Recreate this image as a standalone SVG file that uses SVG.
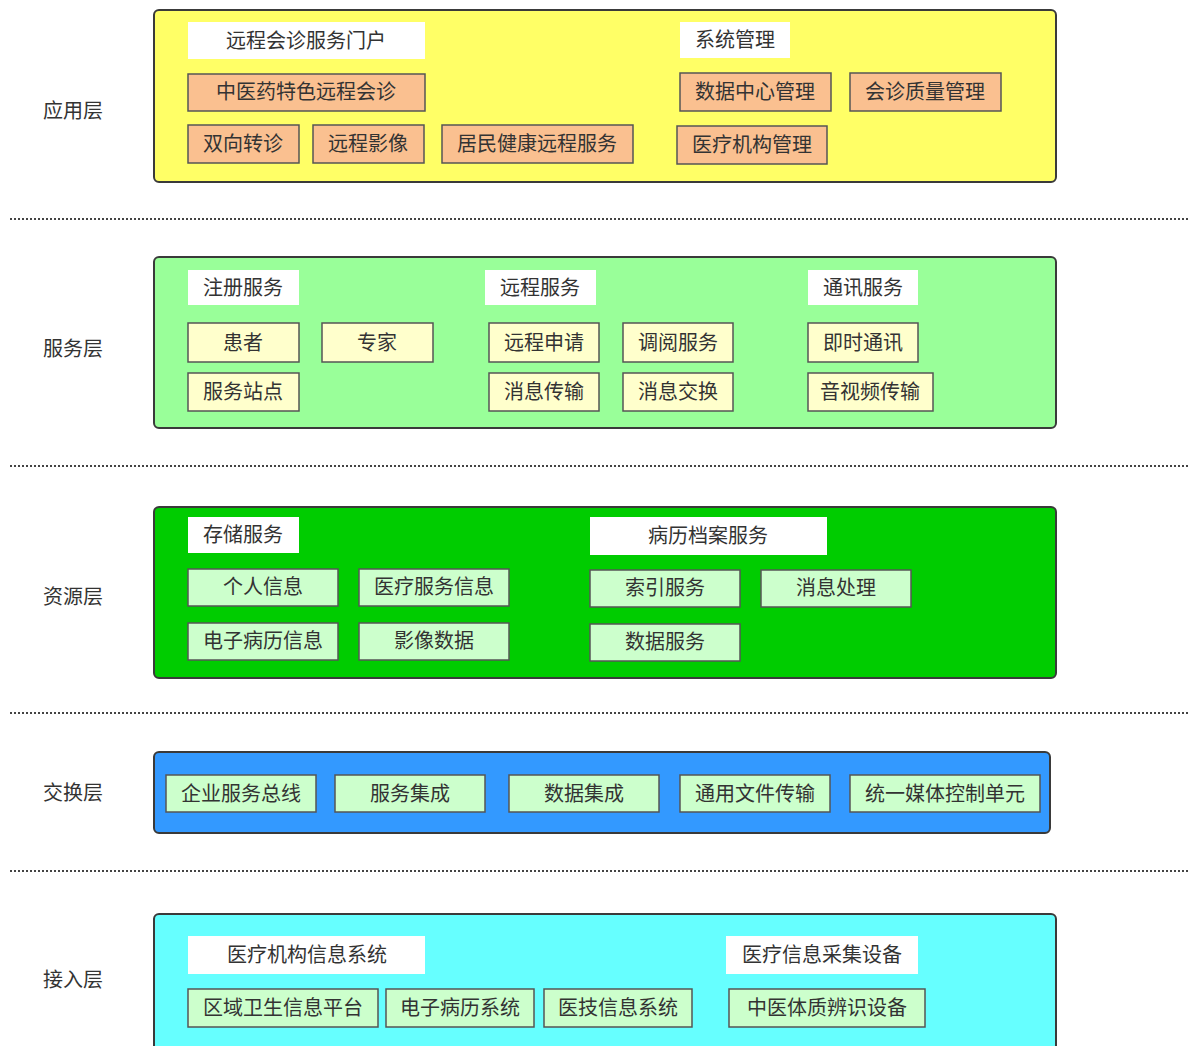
<svg xmlns="http://www.w3.org/2000/svg" width="1189" height="1046" viewBox="0 0 1189 1046">
<style>
text{font-family:"Noto Sans CJK SC","Noto Sans",sans-serif;font-size:20px;fill:#333;text-anchor:middle}
.layer{stroke:#3a3a3a;stroke-width:2}
.hdr{fill:#ffffff;stroke:none}
.it{stroke:#555;stroke-width:1.5}
.or{fill:#fac090}
.ly{fill:#ffffcc}
.lg{fill:#ccffcc}
.sep{stroke:#444;stroke-width:2;stroke-dasharray:2 2;fill:none}
</style>
<rect width="1189" height="1046" fill="#ffffff"/>
<g id="separators">
<line class="sep" x1="10" y1="219" x2="1189" y2="219"/>
<line class="sep" x1="10" y1="466" x2="1189" y2="466"/>
<line class="sep" x1="10" y1="713" x2="1189" y2="713"/>
<line class="sep" x1="10" y1="871" x2="1189" y2="871"/>
</g>
<g id="labels">
<text x="73" y="118">应用层</text>
<text x="73" y="356">服务层</text>
<text x="73" y="604">资源层</text>
<text x="73" y="800">交换层</text>
<text x="73" y="987">接入层</text>
</g>
<g id="app-layer">
<rect class="layer" x="154" y="10" width="902" height="172" rx="5" fill="#ffff66"/>
<g id="app-portal"><rect class="hdr" x="188" y="22" width="237" height="37"/><text x="306" y="48">远程会诊服务门户</text></g>
<g id="app-sys"><rect class="hdr" x="680" y="22" width="110" height="36"/><text x="735" y="47">系统管理</text></g>
<g id="app-tcm"><rect class="it or" x="188" y="74" width="237" height="37"/><text x="306" y="99">中医药特色远程会诊</text></g>
<g id="app-ref"><rect class="it or" x="188" y="125" width="111" height="38"/><text x="243" y="151">双向转诊</text></g>
<g id="app-img"><rect class="it or" x="313" y="125" width="111" height="38"/><text x="368" y="151">远程影像</text></g>
<g id="app-res"><rect class="it or" x="442" y="125" width="191" height="38"/><text x="537" y="151">居民健康远程服务</text></g>
<g id="app-dc"><rect class="it or" x="680" y="73" width="151" height="38"/><text x="755" y="99">数据中心管理</text></g>
<g id="app-qual"><rect class="it or" x="850" y="73" width="151" height="38"/><text x="925" y="99">会诊质量管理</text></g>
<g id="app-org"><rect class="it or" x="677" y="126" width="150" height="38"/><text x="752" y="152">医疗机构管理</text></g>
</g>
<g id="svc-layer">
<rect class="layer" x="154" y="257" width="902" height="171" rx="5" fill="#99ff99"/>
<g id="svc-reg"><rect class="hdr" x="188" y="270" width="111" height="35"/><text x="243" y="295">注册服务</text></g>
<g id="svc-remote"><rect class="hdr" x="485" y="270" width="111" height="35"/><text x="540" y="295">远程服务</text></g>
<g id="svc-comm"><rect class="hdr" x="808" y="270" width="110" height="35"/><text x="863" y="295">通讯服务</text></g>
<g id="svc-pat"><rect class="it ly" x="188" y="323" width="111" height="39"/><text x="243" y="350">患者</text></g>
<g id="svc-exp"><rect class="it ly" x="322" y="323" width="111" height="39"/><text x="377" y="350">专家</text></g>
<g id="svc-site"><rect class="it ly" x="188" y="373" width="111" height="38"/><text x="243" y="399">服务站点</text></g>
<g id="svc-apply"><rect class="it ly" x="489" y="323" width="110" height="39"/><text x="544" y="350">远程申请</text></g>
<g id="svc-view"><rect class="it ly" x="623" y="323" width="110" height="39"/><text x="678" y="350">调阅服务</text></g>
<g id="svc-msg"><rect class="it ly" x="489" y="373" width="110" height="38"/><text x="544" y="399">消息传输</text></g>
<g id="svc-xchg"><rect class="it ly" x="623" y="373" width="110" height="38"/><text x="678" y="399">消息交换</text></g>
<g id="svc-im"><rect class="it ly" x="808" y="323" width="110" height="39"/><text x="863" y="350">即时通讯</text></g>
<g id="svc-av"><rect class="it ly" x="808" y="373" width="125" height="38"/><text x="870" y="399">音视频传输</text></g>
</g>
<g id="res-layer">
<rect class="layer" x="154" y="507" width="902" height="171" rx="5" fill="#00cc00"/>
<g id="res-store"><rect class="hdr" x="188" y="517" width="111" height="36"/><text x="243" y="542">存储服务</text></g>
<g id="res-emr"><rect class="hdr" x="590" y="517" width="237" height="38"/><text x="708" y="543">病历档案服务</text></g>
<g id="res-pers"><rect class="it lg" x="188" y="569" width="150" height="37"/><text x="263" y="594">个人信息</text></g>
<g id="res-med"><rect class="it lg" x="359" y="569" width="150" height="37"/><text x="434" y="594">医疗服务信息</text></g>
<g id="res-emri"><rect class="it lg" x="188" y="623" width="150" height="37"/><text x="263" y="648">电子病历信息</text></g>
<g id="res-imgd"><rect class="it lg" x="359" y="623" width="150" height="37"/><text x="434" y="648">影像数据</text></g>
<g id="res-idx"><rect class="it lg" x="590" y="570" width="150" height="37"/><text x="665" y="595">索引服务</text></g>
<g id="res-proc"><rect class="it lg" x="761" y="570" width="150" height="37"/><text x="836" y="595">消息处理</text></g>
<g id="res-data"><rect class="it lg" x="590" y="624" width="150" height="37"/><text x="665" y="649">数据服务</text></g>
</g>
<g id="ex-layer">
<rect class="layer" x="154" y="752" width="896" height="81" rx="5" fill="#3399ff"/>
<g id="ex-esb"><rect class="it lg" x="166" y="775" width="150" height="37"/><text x="241" y="801">企业服务总线</text></g>
<g id="ex-svc"><rect class="it lg" x="335" y="775" width="150" height="37"/><text x="410" y="801">服务集成</text></g>
<g id="ex-data"><rect class="it lg" x="509" y="775" width="150" height="37"/><text x="584" y="801">数据集成</text></g>
<g id="ex-file"><rect class="it lg" x="680" y="775" width="150" height="37"/><text x="755" y="801">通用文件传输</text></g>
<g id="ex-media"><rect class="it lg" x="850" y="775" width="190" height="37"/><text x="945" y="801">统一媒体控制单元</text></g>
</g>
<g id="acc-layer">
<rect class="layer" x="154" y="914" width="902" height="145" rx="5" fill="#66ffff"/>
<g id="acc-his"><rect class="hdr" x="188" y="936" width="237" height="38"/><text x="307" y="962">医疗机构信息系统</text></g>
<g id="acc-dev"><rect class="hdr" x="726" y="936" width="192" height="38"/><text x="822" y="962">医疗信息采集设备</text></g>
<g id="acc-reg"><rect class="it lg" x="188" y="989" width="190" height="38"/><text x="283" y="1015">区域卫生信息平台</text></g>
<g id="acc-emr"><rect class="it lg" x="386" y="989" width="148" height="38"/><text x="460" y="1015">电子病历系统</text></g>
<g id="acc-lis"><rect class="it lg" x="544" y="989" width="148" height="38"/><text x="618" y="1015">医技信息系统</text></g>
<g id="acc-tcm"><rect class="it lg" x="729" y="989" width="196" height="38"/><text x="827" y="1015">中医体质辨识设备</text></g>
</g>
</svg>
